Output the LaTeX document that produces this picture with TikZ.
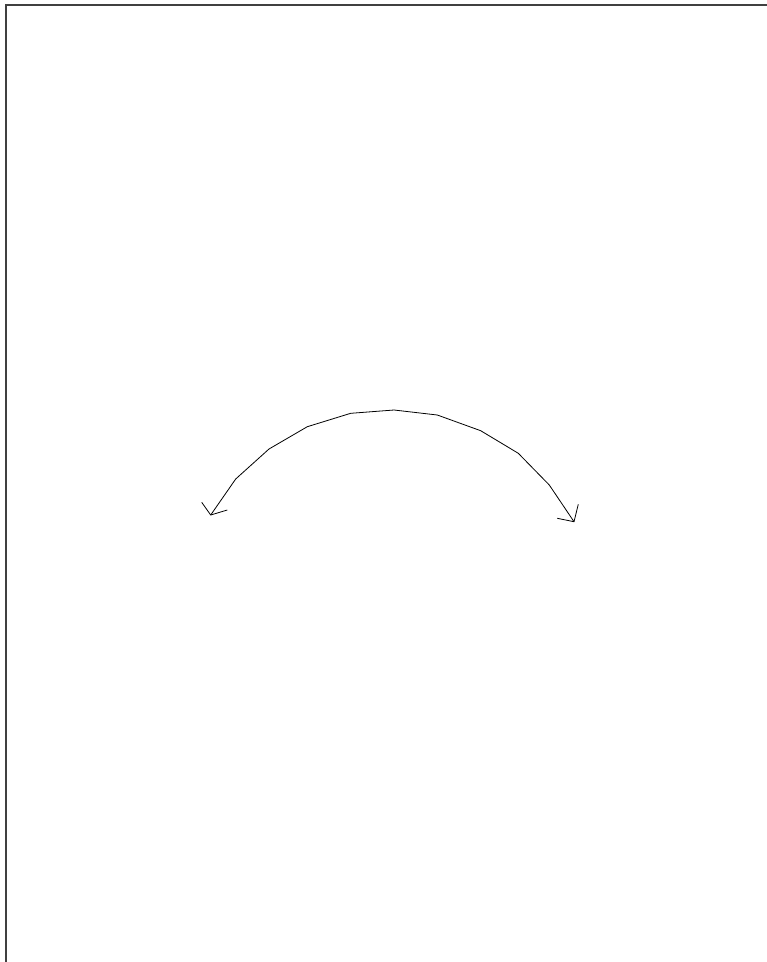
\documentclass[tikz,border=0pt]{standalone}
\usepackage{tikz}
\usetikzlibrary{calc}

\begin{document}
\begin{tikzpicture}[
    x=1pt, y=-1pt,
    frameline/.style={draw=black!75, line width=1.3pt},
    swing/.style={draw=black, line width=0.8pt, line join=round},
    barb/.style={draw=black, line width=0.8pt, line join=miter}
]
\useasboundingbox (0,0) rectangle (767,962);

% Frame (left and top edges)
\coordinate (fb) at (6,962);
\coordinate (fc) at (6,5);
\coordinate (fr) at (767,5);
\draw[frameline] (fb) -- (fc) -- (fr);

% Arc points
\coordinate (tipL) at (210.7,515);
\coordinate (p1) at (235.7,479);
\coordinate (p2) at (269,449);
\coordinate (p3) at (307.3,426.7);
\coordinate (p4) at (350.7,413.3);
\coordinate (top) at (394,410);
\coordinate (p6) at (437.3,415);
\coordinate (p7) at (480.7,430.7);
\coordinate (p8) at (518.3,453.3);
\coordinate (p9) at (549.3,485);
\coordinate (tipR) at (574,521.7);

\draw[swing] (tipL) -- (p1) -- (p2) -- (p3) -- (p4) -- (top)
    -- (p6) -- (p7) -- (p8) -- (p9) -- (tipR);

% Arrow heads
\coordinate (bL1) at (201.7,502.3);
\coordinate (bL2) at (227.3,510);
\coordinate (bR1) at (557.3,518.3);
\coordinate (bR2) at (578.3,504.3);
\draw[barb] (bL1) -- (tipL) -- (bL2);
\draw[barb] (bR1) -- (tipR) -- (bR2);

\end{tikzpicture}
\end{document}
